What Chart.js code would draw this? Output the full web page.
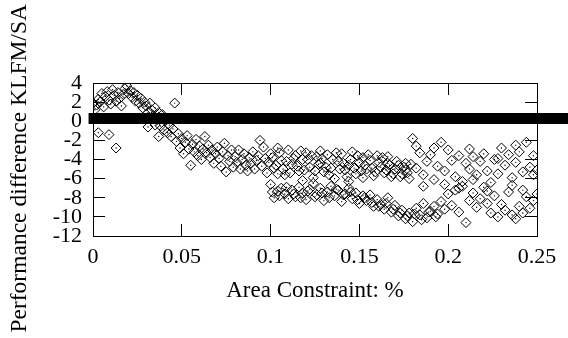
<!DOCTYPE html>
<html>
<head>
<meta charset="utf-8">
<script src="https://cdn.jsdelivr.net/npm/chart.js@4.4.1/dist/chart.umd.min.js"></script>
<style>
    body { margin: 0; background: #fff; }
</style>
</head>
<body>
<canvas id="grafico" width="568" height="338"></canvas>
<script>
// pontos: [area constraint, diferença]
const earlyBand = [
    [0.000, 1.9], [0.001, 1.2], [0.002, 1.7], [0.003, 2.3], [0.004, 2.0], [0.005, 2.9],
    [0.006, 1.5], [0.007, 2.6], [0.008, 3.1], [0.009, 2.2], [0.010, 1.8], [0.011, 3.3],
    [0.012, 2.7], [0.013, 2.1], [0.014, 3.0], [0.015, 2.4], [0.016, 1.6], [0.017, 2.8],
    [0.018, 3.4], [0.019, 3.7], [0.020, 2.9], [0.021, 3.2], [0.022, 2.5], [0.023, 3.0],
    [0.024, 2.1], [0.025, 2.7], [0.026, 1.9], [0.027, 2.4], [0.028, 1.4], [0.029, 2.0],
    [0.030, 1.6], [0.031, 0.9], [0.032, 1.9], [0.033, 1.2], [0.034, 0.6], [0.035, 1.4],
    [0.036, 0.2], [0.037, 0.9], [0.038, -0.5], [0.039, 0.7], [0.040, -0.9], [0.041, 0.1],
    [0.042, -1.2], [0.043, -0.4], [0.044, -1.6], [0.045, -0.8], [0.046, 1.9], [0.047, -2.1],
    [0.048, -1.3], [0.049, -2.8], [0.050, -1.8], [0.051, -3.4], [0.052, -2.2], [0.053, -1.5],
    [0.054, -2.9], [0.055, -4.6], [0.056, -2.4], [0.057, -3.2], [0.058, -1.9], [0.059, -3.6],
    [0.060, -2.6], [0.061, -4.0], [0.062, -2.9], [0.063, -1.6], [0.064, -3.3], [0.065, -2.5],
    [0.066, -3.8], [0.067, -3.0], [0.068, -4.4], [0.069, -3.4], [0.070, -2.7], [0.071, -3.9],
    [0.072, -4.7], [0.073, -3.2], [0.074, -2.3], [0.075, -5.3], [0.076, -3.6], [0.077, -4.2],
    [0.078, -3.0], [0.079, -4.8], [0.080, -3.7], [0.081, -4.3], [0.082, -3.0], [0.083, -5.0],
    [0.084, -4.0], [0.085, -3.4], [0.086, -4.6], [0.087, -5.2], [0.088, -3.8], [0.089, -4.4],
    [0.090, -3.2], [0.091, -5.0], [0.092, -4.1], [0.093, -3.6], [0.094, -2.0], [0.095, -4.7],
    [0.096, -2.7], [0.097, -3.9], [0.098, -5.4], [0.099, -4.3], [0.100, -3.4]
];

const upperBand = [
    [0.102, -4.9], [0.104, -2.8], [0.106, -4.1], [0.108, -5.6], [0.110, -3.0], [0.112, -4.5],
    [0.114, -3.6], [0.116, -5.2], [0.118, -4.0], [0.120, -3.3], [0.122, -4.8], [0.124, -5.9],
    [0.126, -3.7], [0.128, -4.4], [0.130, -5.3], [0.132, -3.5], [0.134, -4.9], [0.136, -6.0],
    [0.138, -4.2], [0.140, -3.4], [0.142, -5.1], [0.144, -4.6], [0.146, -3.2], [0.148, -5.5],
    [0.150, -4.3], [0.152, -3.8], [0.154, -5.0], [0.156, -4.1], [0.158, -5.7], [0.160, -3.6],
    [0.162, -4.8], [0.164, -5.4], [0.166, -4.4], [0.168, -5.8], [0.170, -5.0], [0.172, -4.6],
    [0.174, -5.5], [0.176, -5.1], [0.178, -6.0], [0.180, -1.8], [0.182, -4.9], [0.184, -3.3],
    [0.186, -5.6], [0.188, -4.2], [0.190, -3.5], [0.192, -6.1], [0.194, -4.7], [0.196, -2.2],
    [0.198, -5.2], [0.200, -3.0], [0.202, -4.1], [0.204, -5.8], [0.206, -3.6], [0.208, -6.3],
    [0.210, -4.4], [0.212, -5.0], [0.214, -3.7], [0.216, -5.6], [0.218, -4.2], [0.220, -3.4],
    [0.222, -5.2], [0.224, -6.4], [0.226, -4.0], [0.228, -5.5], [0.230, -2.8], [0.232, -4.6],
    [0.234, -3.5], [0.236, -5.9], [0.238, -4.3], [0.240, -3.2], [0.242, -5.3], [0.244, -2.2],
    [0.246, -4.8], [0.248, -5.6], [0.250, -5.1]
];

const upperBandOdd = [
    [0.101, -3.8], [0.103, -4.6], [0.105, -3.3], [0.107, -5.0], [0.109, -4.2], [0.111, -5.4],
    [0.113, -3.9], [0.115, -4.7], [0.117, -3.1], [0.119, -5.1], [0.121, -4.0], [0.123, -3.6],
    [0.125, -5.2], [0.127, -4.5], [0.129, -3.9], [0.131, -4.8], [0.133, -5.6], [0.135, -4.0],
    [0.137, -3.3], [0.139, -5.0], [0.141, -4.4], [0.143, -5.8], [0.145, -4.0], [0.147, -4.9],
    [0.149, -3.6], [0.151, -5.2], [0.153, -4.6], [0.155, -3.5], [0.157, -4.9], [0.159, -5.3],
    [0.161, -4.3], [0.163, -3.8], [0.165, -5.1], [0.167, -4.6], [0.169, -5.5], [0.171, -4.2],
    [0.173, -5.8], [0.175, -4.8], [0.177, -5.4], [0.179, -4.5]
];

const lowerBand = [
    [0.100, -6.6], [0.102, -8.0], [0.104, -7.3], [0.106, -7.0], [0.108, -7.6], [0.110, -8.1],
    [0.112, -7.2], [0.114, -7.9], [0.116, -6.9], [0.118, -7.5], [0.120, -8.2], [0.122, -7.1],
    [0.124, -6.5], [0.126, -7.7], [0.128, -7.0], [0.130, -8.3], [0.132, -7.4], [0.134, -6.8],
    [0.136, -7.8], [0.138, -7.2], [0.140, -8.4], [0.142, -7.6], [0.144, -7.0], [0.146, -8.1],
    [0.148, -7.5], [0.150, -8.6], [0.152, -7.8], [0.154, -8.3], [0.156, -7.7], [0.158, -8.9],
    [0.160, -8.2], [0.162, -8.7], [0.164, -9.2], [0.166, -8.0], [0.168, -9.5], [0.170, -8.8],
    [0.172, -9.9], [0.174, -9.3], [0.176, -10.2], [0.178, -9.6], [0.180, -10.5], [0.182, -9.1],
    [0.184, -9.8], [0.186, -8.6], [0.188, -10.1], [0.190, -9.4], [0.192, -8.9], [0.194, -9.7],
    [0.196, -8.4], [0.198, -9.2], [0.200, -7.6], [0.202, -8.8], [0.204, -7.2], [0.206, -9.5],
    [0.208, -6.8], [0.210, -10.6], [0.212, -8.3], [0.214, -7.5], [0.216, -9.0], [0.218, -8.1],
    [0.220, -6.9], [0.222, -8.6], [0.224, -9.6], [0.226, -7.8], [0.228, -10.0], [0.230, -8.7],
    [0.232, -9.3], [0.234, -7.4], [0.236, -9.8], [0.238, -10.2], [0.240, -8.9], [0.242, -9.6],
    [0.244, -7.9], [0.246, -9.1], [0.248, -8.3], [0.250, -7.6]
];

const lowerBandOdd = [
    [0.101, -7.4], [0.105, -7.8], [0.109, -6.9], [0.113, -7.6], [0.117, -8.0], [0.121, -7.3],
    [0.125, -7.9], [0.129, -7.5], [0.133, -8.0], [0.137, -7.1], [0.141, -7.7], [0.145, -7.4],
    [0.149, -8.2], [0.153, -8.0], [0.157, -8.5], [0.161, -8.9], [0.165, -8.6], [0.169, -9.2],
    [0.173, -9.6], [0.177, -9.9], [0.181, -9.7], [0.185, -10.3], [0.189, -9.5], [0.193, -10.0]
];

const strayPoints = [
    [0.003, -1.2], [0.009, -1.4], [0.013, -2.8], [0.031, -0.6], [0.035, -0.4], [0.037, -1.6],
    [0.104, -5.5], [0.118, -6.2], [0.128, -3.1], [0.144, -6.3], [0.152, -5.9], [0.166, -3.7],
    [0.176, -4.4], [0.182, -2.6], [0.186, -6.8], [0.192, -2.8], [0.198, -6.6], [0.206, -7.0],
    [0.212, -2.9], [0.214, -6.1], [0.222, -7.3], [0.228, -3.9], [0.236, -6.7], [0.238, -2.5],
    [0.242, -7.2], [0.248, -3.6]
];

// linha grossa horizontal
const refLineX = [-0.0025, 0.3];
const refLineY = 0.3;

const xTicks = [0, 0.05, 0.1, 0.15, 0.2, 0.25];
const yTicks = [-12, -10, -8, -6, -4, -2, 0, 2, 4];

const allPoints = earlyBand.concat(upperBand, upperBandOdd, lowerBand, lowerBandOdd, strayPoints)
    .map(function (p) { return { x: p[0], y: p[1] }; });

Chart.defaults.font.family = '"Liberation Serif", "Times New Roman", serif';
Chart.defaults.color = '#000';

const grid = {
    display: true,
    drawOnChartArea: false,
    drawTicks: true,
    tickLength: -12,
    color: '#000',
    lineWidth: 1
};
const border = { display: true, color: '#000', width: 1 };

const ctx = document.getElementById('grafico').getContext('2d');
new Chart(ctx, {
    type: 'scatter',
    data: {
        datasets: [
            {
                type: 'line',
                data: refLineX.map(function (x) { return { x: x, y: refLineY }; }),
                borderColor: '#000',
                borderWidth: 11,
                borderCapStyle: 'butt',
                pointRadius: 0,
                clip: false,
                order: -1
            },
            {
                data: allPoints,
                pointStyle: 'rectRot',
                pointRadius: 5,
                borderColor: '#000',
                borderWidth: 1,
                backgroundColor: 'rgba(0,0,0,0)'
            },
            {
                data: allPoints,
                pointStyle: 'circle',
                pointRadius: 0.7,
                borderWidth: 0,
                backgroundColor: '#000'
            }
        ]
    },
    options: {
        responsive: false,
        animation: false,
        layout: { padding: { left: 0, top: 83, right: 31, bottom: 0 } },
        plugins: {
            legend: { display: false },
            tooltip: { enabled: false }
        },
        scales: {
            x: {
                type: 'linear',
                position: 'bottom',
                min: 0,
                max: 0.25,
                afterBuildTicks: function (scale) {
                    scale.ticks = xTicks.map(function (v) { return { value: v }; });
                },
                afterFit: function (scale) { scale.height = 102; },
                ticks: {
                    font: { size: 22, lineHeight: '50px' },
                    padding: 8,
                    maxRotation: 0,
                    autoSkip: false,
                    callback: function (value) { return String(+value.toFixed(2)); }
                },
                grid: grid,
                border: border,
                title: {
                    display: true,
                    text: 'Area Constraint: %',
                    font: { size: 23 },
                    padding: { top: 0, bottom: 33 }
                }
            },
            y: {
                type: 'linear',
                position: 'left',
                min: -12,
                max: 4,
                afterBuildTicks: function (scale) {
                    scale.ticks = yTicks.map(function (v) { return { value: v }; });
                },
                afterFit: function (scale) { scale.width = 93; },
                ticks: {
                    font: { size: 22 },
                    padding: 23,
                    autoSkip: false
                },
                grid: grid,
                border: border,
                title: {
                    display: true,
                    // espaços no fim empurram o texto um pouco para baixo
                    text: 'Performance difference KLFM/SA   ',
                    font: { size: 23.5 },
                    padding: { top: 6, bottom: 0 }
                }
            },
            x2: {
                type: 'linear',
                position: 'top',
                min: 0,
                max: 0.25,
                afterBuildTicks: function (scale) {
                    scale.ticks = xTicks.map(function (v) { return { value: v }; });
                },
                afterFit: function (scale) { scale.height = 0; },
                ticks: { display: false },
                grid: grid,
                border: border
            },
            y2: {
                type: 'linear',
                position: 'right',
                min: -12,
                max: 4,
                afterBuildTicks: function (scale) {
                    scale.ticks = yTicks.map(function (v) { return { value: v }; });
                },
                afterFit: function (scale) { scale.width = 0; },
                ticks: { display: false },
                grid: grid,
                border: border
            }
        }
    }
});
</script>
</body>
</html>
